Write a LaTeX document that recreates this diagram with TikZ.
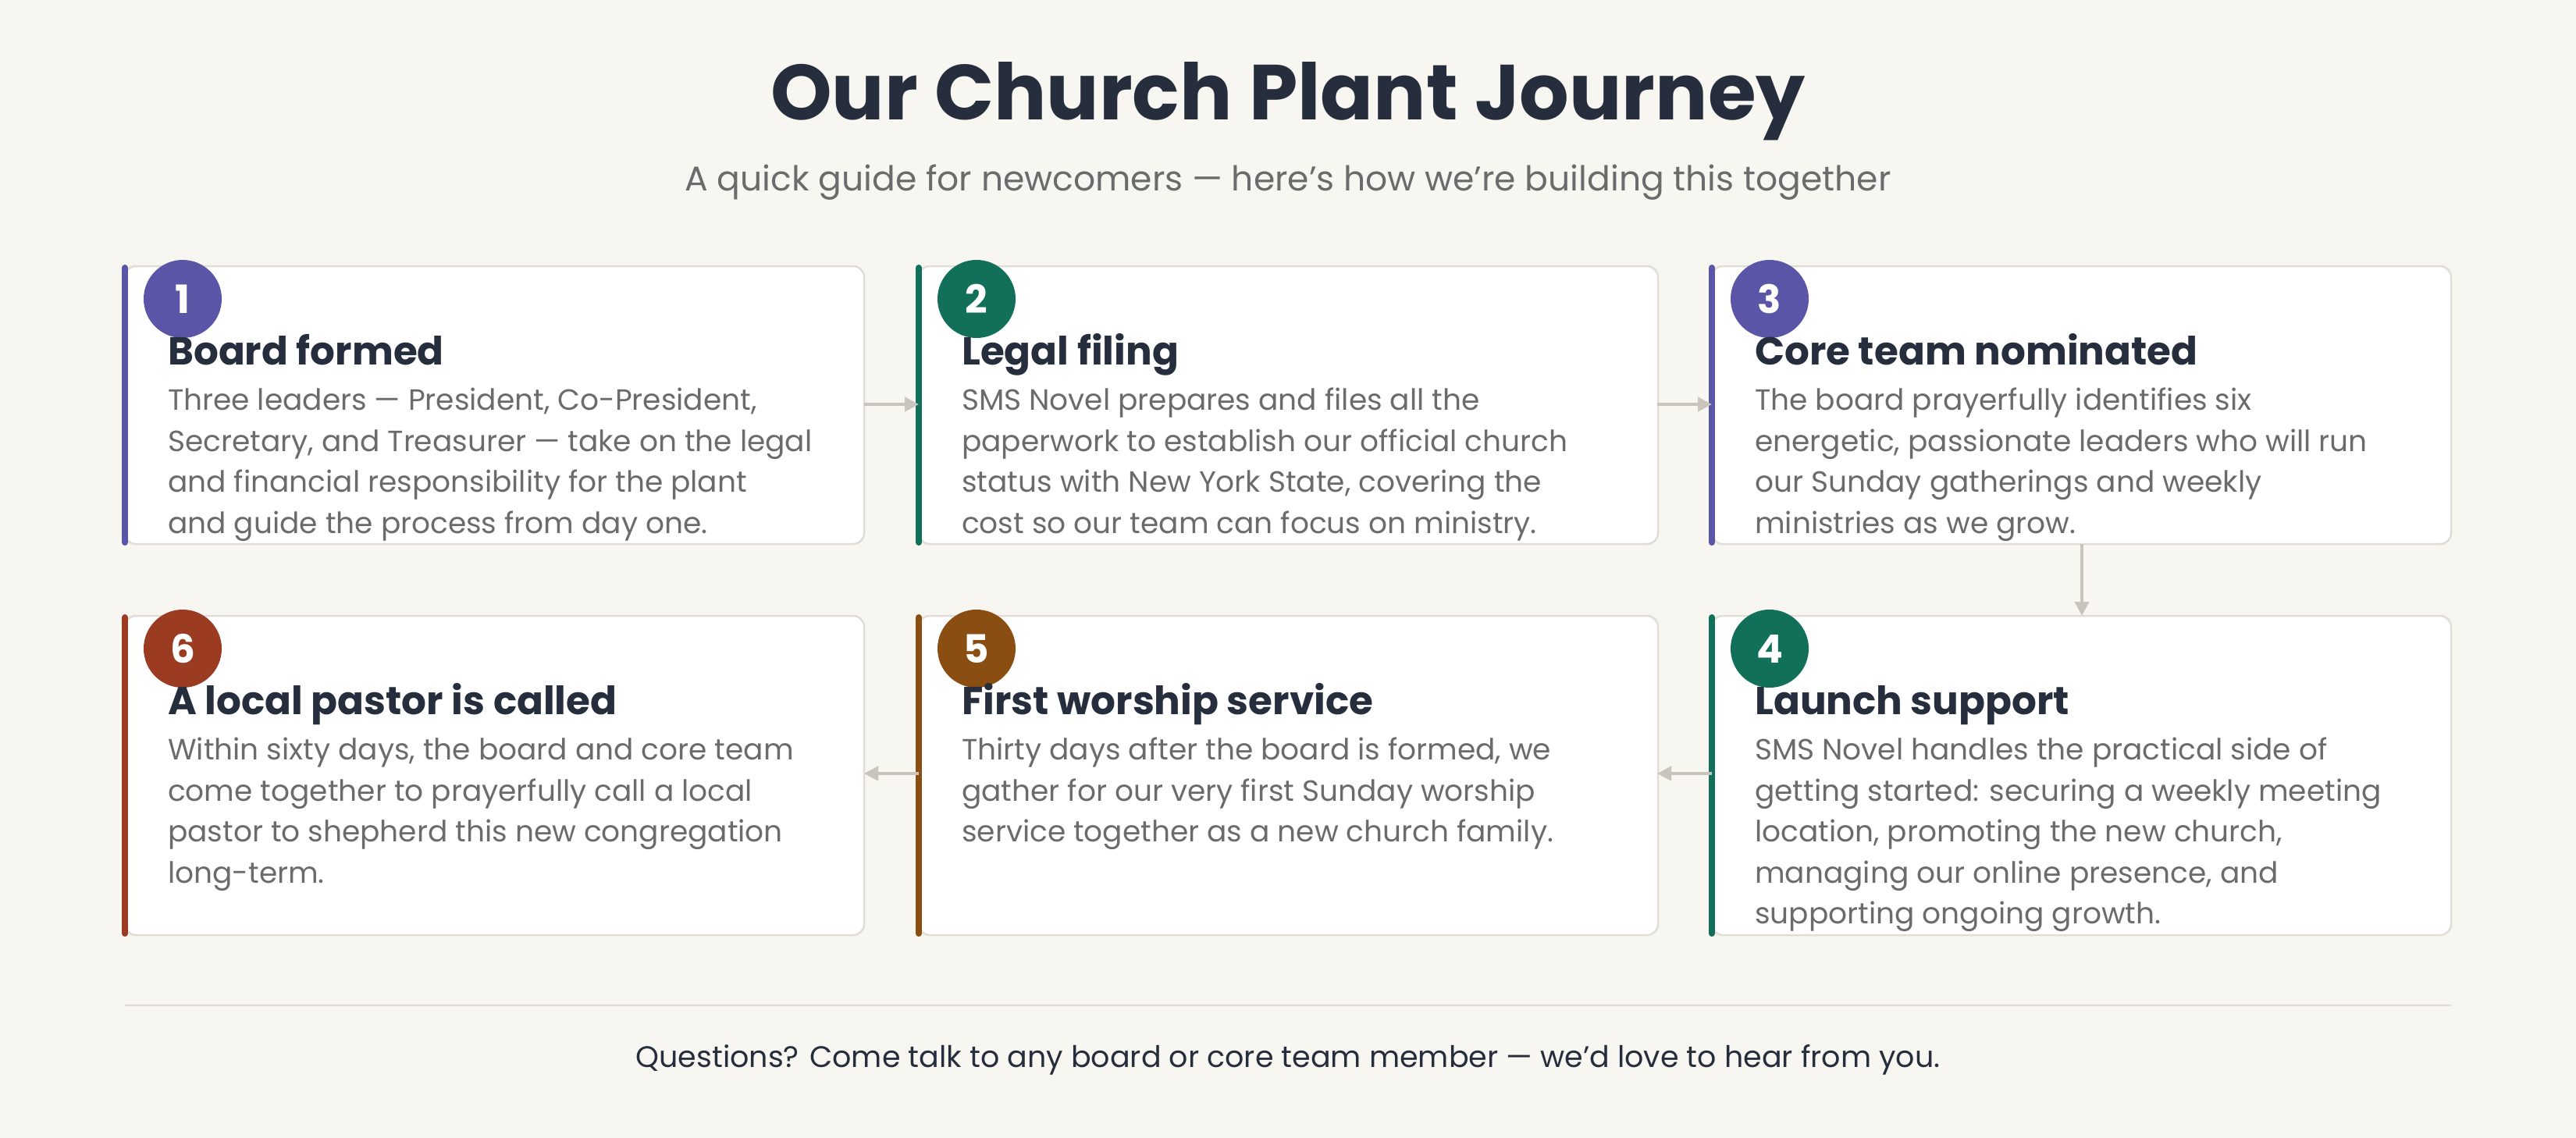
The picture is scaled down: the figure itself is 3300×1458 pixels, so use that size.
\documentclass[tikz,border=0pt]{standalone}
\usepackage{fontspec}
\setmainfont{Poppins}
\usetikzlibrary{arrows.meta}
\definecolor{bg}{HTML}{F8F6F1}
\definecolor{cardborder}{HTML}{E0DDD6}
\definecolor{txt}{HTML}{6B6B6B}
\definecolor{dark}{HTML}{262D3C}
\definecolor{cpurple}{HTML}{5B55A8}
\definecolor{cgreen}{HTML}{12705A}
\definecolor{crust}{HTML}{9A3B22}
\definecolor{cbrown}{HTML}{8A4E12}
\definecolor{arr}{HTML}{C9C5BC}
\tikzset{
  card/.style={draw=cardborder,line width=2.5pt,fill=white,rounded corners=14pt},
  num/.style={circle,minimum size=100pt,inner sep=0pt,text=white,font=\fontsize{50}{50}\selectfont\bfseries},
  head/.style={anchor=base west,inner sep=0pt,text=dark,font=\fontsize{50}{50}\selectfont\bfseries},
  body/.style={anchor=north west,inner sep=0pt,align=left,text=txt,font=\fontsize{37.5}{52.5}\selectfont},
  flow/.style={draw=arr,line width=4pt,-{Triangle[length=18pt,width=18pt]}}
}
\newcommand{\card}[6]{%
  \draw[card] (#2,#3) rectangle (#2+947,#4);
  \draw[#5,line width=8pt,line cap=round] (#2,#3+2) -- (#2,#4-2);
  \node[num,fill=#5] (#1c) at (#2+74,#3+42) {#6};
}
\begin{document}
\begin{tikzpicture}[x=1pt,y=-1pt]
\fill[bg] (0,0) rectangle (3300,1458);
\useasboundingbox (0,0) rectangle (3300,1458);
\node[text=dark,font=\fontsize{100}{100}\selectfont\bfseries] (title) at (1650,130) {Our Church Plant Journey};
\node[text=txt,font=\fontsize{44}{44}\selectfont] (sub) at (1650,234) {A quick guide for newcomers — here's how we're building this together};

\card{a}{160}{341}{697}{cpurple}{1}
\card{b}{1177}{341}{697}{cgreen}{2}
\card{c}{2193}{341}{697}{cpurple}{3}
\card{f}{160}{789}{1198}{crust}{6}
\card{e}{1177}{789}{1198}{cbrown}{5}
\card{d}{2193}{789}{1198}{cgreen}{4}

\node[head] (ah) at (215,467) {Board formed};
\node[body] (ab) at (215,497) {Three leaders — President, Co-President,\\Secretary, and Treasurer — take on the legal\\and financial responsibility for the plant\\and guide the process from day one.};
\node[head] (bh) at (1232,467) {Legal filing};
\node[body] (bb) at (1232,497) {SMS Novel prepares and files all the\\paperwork to establish our official church\\status with New York State, covering the\\cost so our team can focus on ministry.};
\node[head] (ch) at (2248,467) {Core team nominated};
\node[body] (cb) at (2248,497) {The board prayerfully identifies six\\energetic, passionate leaders who will run\\our Sunday gatherings and weekly\\ministries as we grow.};
\node[head] (dh) at (2248,915) {Launch support};
\node[body] (db) at (2248,945) {SMS Novel handles the practical side of\\getting started: securing a weekly meeting\\location, promoting the new church,\\managing our online presence, and\\supporting ongoing growth.};
\node[head] (eh) at (1232,915) {First worship service};
\node[body] (eb) at (1232,945) {Thirty days after the board is formed, we\\gather for our very first Sunday worship\\service together as a new church family.};
\node[head] (fh) at (215,915) {A local pastor is called};
\node[body] (fb) at (215,945) {Within sixty days, the board and core team\\come together to prayerfully call a local\\pastor to shepherd this new congregation\\long-term.};

\coordinate (a1) at (1107,518); \coordinate (b0) at (1177,518);
\coordinate (b1) at (2123,518); \coordinate (c0) at (2193,518);
\coordinate (c1) at (2667,697); \coordinate (d0) at (2667,789);
\coordinate (d1) at (2193,991); \coordinate (e0) at (2123,991);
\coordinate (e1) at (1177,991); \coordinate (f0) at (1107,991);
\draw[flow] (a1) -- (b0);
\draw[flow] (b1) -- (c0);
\draw[flow] (c1) -- (d0);
\draw[flow] (d1) -- (e0);
\draw[flow] (e1) -- (f0);

\coordinate (l0) at (160,1288); \coordinate (l1) at (3141,1288);
\draw[cardborder,line width=2.5pt] (l0) -- (l1);
\node[text=dark,font=\fontsize{38}{38}\selectfont] (foot) at (1650,1358) {Questions? Come talk to any board or core team member — we'd love to hear from you.};
\end{tikzpicture}
\end{document}
